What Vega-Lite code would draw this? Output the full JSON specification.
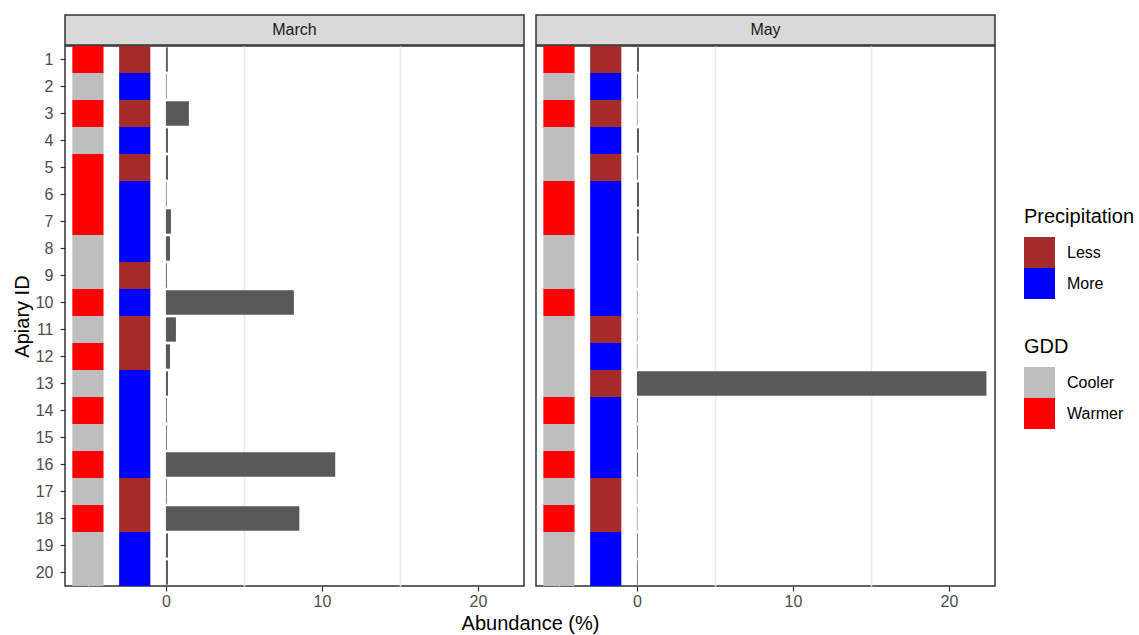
{
  "$schema": "https://vega.github.io/schema/vega-lite/v6.json",
  "background": "white",
  "padding": {"left": 11, "top": 14, "right": 5, "bottom": 0},
  "datasets": {
    "obs": [
      {"month": "March", "id": 1, "abundance": 0.12, "gdd": "Warmer", "precip": "Less"},
      {"month": "March", "id": 2, "abundance": 0.04, "gdd": "Cooler", "precip": "More"},
      {"month": "March", "id": 3, "abundance": 1.47, "gdd": "Warmer", "precip": "Less"},
      {"month": "March", "id": 4, "abundance": 0.13, "gdd": "Cooler", "precip": "More"},
      {"month": "March", "id": 5, "abundance": 0.13, "gdd": "Warmer", "precip": "Less"},
      {"month": "March", "id": 6, "abundance": 0.04, "gdd": "Warmer", "precip": "More"},
      {"month": "March", "id": 7, "abundance": 0.32, "gdd": "Warmer", "precip": "More"},
      {"month": "March", "id": 8, "abundance": 0.26, "gdd": "Cooler", "precip": "More"},
      {"month": "March", "id": 9, "abundance": 0.06, "gdd": "Cooler", "precip": "Less"},
      {"month": "March", "id": 10, "abundance": 8.2, "gdd": "Warmer", "precip": "More"},
      {"month": "March", "id": 11, "abundance": 0.64, "gdd": "Cooler", "precip": "Less"},
      {"month": "March", "id": 12, "abundance": 0.26, "gdd": "Warmer", "precip": "Less"},
      {"month": "March", "id": 13, "abundance": 0.13, "gdd": "Cooler", "precip": "More"},
      {"month": "March", "id": 14, "abundance": 0.05, "gdd": "Warmer", "precip": "More"},
      {"month": "March", "id": 15, "abundance": 0.05, "gdd": "Cooler", "precip": "More"},
      {"month": "March", "id": 16, "abundance": 10.85, "gdd": "Warmer", "precip": "More"},
      {"month": "March", "id": 17, "abundance": 0.05, "gdd": "Cooler", "precip": "Less"},
      {"month": "March", "id": 18, "abundance": 8.55, "gdd": "Warmer", "precip": "Less"},
      {"month": "March", "id": 19, "abundance": 0.13, "gdd": "Cooler", "precip": "More"},
      {"month": "March", "id": 20, "abundance": 0.13, "gdd": "Cooler", "precip": "More"},
      {"month": "May", "id": 1, "abundance": 0.13, "gdd": "Warmer", "precip": "Less"},
      {"month": "May", "id": 2, "abundance": 0.06, "gdd": "Cooler", "precip": "More"},
      {"month": "May", "id": 3, "abundance": 0.03, "gdd": "Warmer", "precip": "Less"},
      {"month": "May", "id": 4, "abundance": 0.13, "gdd": "Cooler", "precip": "More"},
      {"month": "May", "id": 5, "abundance": 0.06, "gdd": "Cooler", "precip": "Less"},
      {"month": "May", "id": 6, "abundance": 0.13, "gdd": "Warmer", "precip": "More"},
      {"month": "May", "id": 7, "abundance": 0.13, "gdd": "Warmer", "precip": "More"},
      {"month": "May", "id": 8, "abundance": 0.1, "gdd": "Cooler", "precip": "More"},
      {"month": "May", "id": 9, "abundance": 0.03, "gdd": "Cooler", "precip": "More"},
      {"month": "May", "id": 10, "abundance": 0.03, "gdd": "Warmer", "precip": "More"},
      {"month": "May", "id": 11, "abundance": 0.03, "gdd": "Cooler", "precip": "Less"},
      {"month": "May", "id": 12, "abundance": 0.03, "gdd": "Cooler", "precip": "More"},
      {"month": "May", "id": 13, "abundance": 22.4, "gdd": "Cooler", "precip": "Less"},
      {"month": "May", "id": 14, "abundance": 0.05, "gdd": "Warmer", "precip": "More"},
      {"month": "May", "id": 15, "abundance": 0.05, "gdd": "Cooler", "precip": "More"},
      {"month": "May", "id": 16, "abundance": 0.06, "gdd": "Warmer", "precip": "More"},
      {"month": "May", "id": 17, "abundance": 0.03, "gdd": "Cooler", "precip": "Less"},
      {"month": "May", "id": 18, "abundance": 0.03, "gdd": "Warmer", "precip": "Less"},
      {"month": "May", "id": 19, "abundance": 0.05, "gdd": "Cooler", "precip": "More"},
      {"month": "May", "id": 20, "abundance": 0.05, "gdd": "Cooler", "precip": "More"}
    ],
    "strips": [{"month": "March"}, {"month": "May"}]
  },
  "config": {
    "font": "Liberation Sans",
    "view": {"stroke": "#333333", "strokeWidth": 1.5},
    "axis": {
      "domain": false,
      "grid": false,
      "labelColor": "#4D4D4D",
      "labelFontSize": 16,
      "tickColor": "#333333",
      "tickWidth": 1.2,
      "tickSize": 5,
      "titleColor": "#000000",
      "titleFontSize": 20,
      "titleFontWeight": "normal"
    },
    "legend": {
      "titleFontWeight": "normal",
      "titleColor": "#000000",
      "labelColor": "#000000"
    }
  },
  "bounds": "flush",
  "columns": 2,
  "spacing": {"row": 1, "column": 12},
  "concat": [
    {
      "width": 459,
      "height": 30,
      "data": {"name": "strips"},
      "transform": [{"filter": "datum.month === 'March'"}],
      "view": {"fill": "#D9D9D9", "stroke": "#333333", "strokeWidth": 1.5},
      "mark": {"type": "text", "fontSize": 16, "color": "#1A1A1A", "baseline": "middle", "align": "center"},
      "encoding": {"text": {"field": "month", "type": "nominal"}}
    },
    {
      "width": 459,
      "height": 30,
      "data": {"name": "strips"},
      "transform": [{"filter": "datum.month === 'May'"}],
      "view": {"fill": "#D9D9D9", "stroke": "#333333", "strokeWidth": 1.5},
      "mark": {"type": "text", "fontSize": 16, "color": "#1A1A1A", "baseline": "middle", "align": "center"},
      "encoding": {"text": {"field": "month", "type": "nominal"}}
    },
    {
      "width": 459,
      "height": 540,
      "data": {"name": "obs"},
      "transform": [{"filter": "datum.month === 'March'"}],
      "encoding": {
        "y": {
          "field": "id",
          "type": "ordinal",
          "scale": {"domain": [1,2,3,4,5,6,7,8,9,10,11,12,13,14,15,16,17,18,19,20], "paddingInner": 0, "paddingOuter": 0},
          "axis": {"title": "Apiary ID", "labelPadding": 7, "titlePadding": 3}
        }
      },
      "layer": [
        {
          "mark": {"type": "bar"},
          "encoding": {
            "x": {
              "datum": -6,
              "type": "quantitative",
              "scale": {"domain": [-6.47, 22.95], "nice": false},
              "axis": {
                "title": "Abundance (%)",
                "values": [-5, 0, 5, 10, 15, 20],
                "labelExpr": "datum.value % 10 === 0 ? datum.label : ''",
                "labelOverlap": false,
                "labelFlush": false,
                "labelPadding": 2,
                "grid": true,
                "gridColor": "#EBEBEB",
                "gridWidth": 1.6,
                "gridOpacity": {"condition": {"test": "datum.value % 10 !== 0", "value": 1}, "value": 0},
                "tickOpacity": {"condition": {"test": "datum.value % 10 === 0", "value": 1}, "value": 0},
                "titleX": 465,
                "titleAlign": "center",
                "titlePadding": 4
              }
            },
            "x2": {"datum": -4},
            "fill": {
              "field": "gdd",
              "type": "nominal",
              "scale": {"domain": ["Cooler", "Warmer"], "range": ["#BEBEBE", "#FF0000"]},
              "legend": {"title": "GDD", "orient": "none", "legendX": 959, "legendY": 322, "symbolType": "square", "symbolSize": 961, "symbolStrokeWidth": 0, "rowPadding": 0, "titleFontSize": 20, "labelFontSize": 16, "titlePadding": 10, "labelOffset": 12}
            }
          }
        },
        {
          "mark": {"type": "bar"},
          "encoding": {
            "x": {
              "datum": -3,
              "type": "quantitative",
              "scale": {"domain": [-6.47, 22.95], "nice": false},
              "axis": {
                "title": "Abundance (%)",
                "values": [-5, 0, 5, 10, 15, 20],
                "labelExpr": "datum.value % 10 === 0 ? datum.label : ''",
                "labelOverlap": false,
                "labelFlush": false,
                "labelPadding": 2,
                "grid": true,
                "gridColor": "#EBEBEB",
                "gridWidth": 1.6,
                "gridOpacity": {"condition": {"test": "datum.value % 10 !== 0", "value": 1}, "value": 0},
                "tickOpacity": {"condition": {"test": "datum.value % 10 === 0", "value": 1}, "value": 0},
                "titleX": 465,
                "titleAlign": "center",
                "titlePadding": 4
              }
            },
            "x2": {"datum": -1},
            "color": {
              "field": "precip",
              "type": "nominal",
              "scale": {"domain": ["Less", "More"], "range": ["#A52A2A", "#0000FF"]},
              "legend": {"title": "Precipitation", "orient": "none", "legendX": 959, "legendY": 192, "symbolType": "square", "symbolSize": 961, "symbolStrokeWidth": 0, "rowPadding": 0, "titleFontSize": 20, "labelFontSize": 16, "titlePadding": 10, "labelOffset": 12}
            }
          }
        },
        {
          "mark": {"type": "bar", "color": "#595959", "height": {"band": 0.9}},
          "encoding": {
            "x": {
              "field": "abundance",
              "type": "quantitative",
              "scale": {"domain": [-6.47, 22.95], "nice": false},
              "axis": {
                "title": "Abundance (%)",
                "values": [-5, 0, 5, 10, 15, 20],
                "labelExpr": "datum.value % 10 === 0 ? datum.label : ''",
                "labelOverlap": false,
                "labelFlush": false,
                "labelPadding": 2,
                "grid": true,
                "gridColor": "#EBEBEB",
                "gridWidth": 1.6,
                "gridOpacity": {"condition": {"test": "datum.value % 10 !== 0", "value": 1}, "value": 0},
                "tickOpacity": {"condition": {"test": "datum.value % 10 === 0", "value": 1}, "value": 0},
                "titleX": 465,
                "titleAlign": "center",
                "titlePadding": 4
              }
            },
            "x2": {"datum": 0}
          }
        }
      ]
    },
    {
      "width": 459,
      "height": 540,
      "data": {"name": "obs"},
      "transform": [{"filter": "datum.month === 'May'"}],
      "encoding": {
        "y": {
          "field": "id",
          "type": "ordinal",
          "scale": {"domain": [1,2,3,4,5,6,7,8,9,10,11,12,13,14,15,16,17,18,19,20], "paddingInner": 0, "paddingOuter": 0},
          "axis": null
        }
      },
      "layer": [
        {
          "mark": {"type": "bar"},
          "encoding": {
            "x": {
              "datum": -6,
              "type": "quantitative",
              "scale": {"domain": [-6.47, 22.95], "nice": false},
              "axis": {
                "title": null,
                "values": [-5, 0, 5, 10, 15, 20],
                "labelExpr": "datum.value % 10 === 0 ? datum.label : ''",
                "labelOverlap": false,
                "labelFlush": false,
                "labelPadding": 2,
                "grid": true,
                "gridColor": "#EBEBEB",
                "gridWidth": 1.6,
                "gridOpacity": {"condition": {"test": "datum.value % 10 !== 0", "value": 1}, "value": 0},
                "tickOpacity": {"condition": {"test": "datum.value % 10 === 0", "value": 1}, "value": 0}
              }
            },
            "x2": {"datum": -4},
            "fill": {
              "field": "gdd",
              "type": "nominal",
              "scale": {"domain": ["Cooler", "Warmer"], "range": ["#BEBEBE", "#FF0000"]},
              "legend": {"title": "GDD", "orient": "none", "legendX": 959, "legendY": 322, "symbolType": "square", "symbolSize": 961, "symbolStrokeWidth": 0, "rowPadding": 0, "titleFontSize": 20, "labelFontSize": 16, "titlePadding": 10, "labelOffset": 12}
            }
          }
        },
        {
          "mark": {"type": "bar"},
          "encoding": {
            "x": {
              "datum": -3,
              "type": "quantitative",
              "scale": {"domain": [-6.47, 22.95], "nice": false},
              "axis": {
                "title": null,
                "values": [-5, 0, 5, 10, 15, 20],
                "labelExpr": "datum.value % 10 === 0 ? datum.label : ''",
                "labelOverlap": false,
                "labelFlush": false,
                "labelPadding": 2,
                "grid": true,
                "gridColor": "#EBEBEB",
                "gridWidth": 1.6,
                "gridOpacity": {"condition": {"test": "datum.value % 10 !== 0", "value": 1}, "value": 0},
                "tickOpacity": {"condition": {"test": "datum.value % 10 === 0", "value": 1}, "value": 0}
              }
            },
            "x2": {"datum": -1},
            "color": {
              "field": "precip",
              "type": "nominal",
              "scale": {"domain": ["Less", "More"], "range": ["#A52A2A", "#0000FF"]},
              "legend": {"title": "Precipitation", "orient": "none", "legendX": 959, "legendY": 192, "symbolType": "square", "symbolSize": 961, "symbolStrokeWidth": 0, "rowPadding": 0, "titleFontSize": 20, "labelFontSize": 16, "titlePadding": 10, "labelOffset": 12}
            }
          }
        },
        {
          "mark": {"type": "bar", "color": "#595959", "height": {"band": 0.9}},
          "encoding": {
            "x": {
              "field": "abundance",
              "type": "quantitative",
              "scale": {"domain": [-6.47, 22.95], "nice": false},
              "axis": {
                "title": null,
                "values": [-5, 0, 5, 10, 15, 20],
                "labelExpr": "datum.value % 10 === 0 ? datum.label : ''",
                "labelOverlap": false,
                "labelFlush": false,
                "labelPadding": 2,
                "grid": true,
                "gridColor": "#EBEBEB",
                "gridWidth": 1.6,
                "gridOpacity": {"condition": {"test": "datum.value % 10 !== 0", "value": 1}, "value": 0},
                "tickOpacity": {"condition": {"test": "datum.value % 10 === 0", "value": 1}, "value": 0}
              }
            },
            "x2": {"datum": 0}
          }
        }
      ]
    }
  ]
}
